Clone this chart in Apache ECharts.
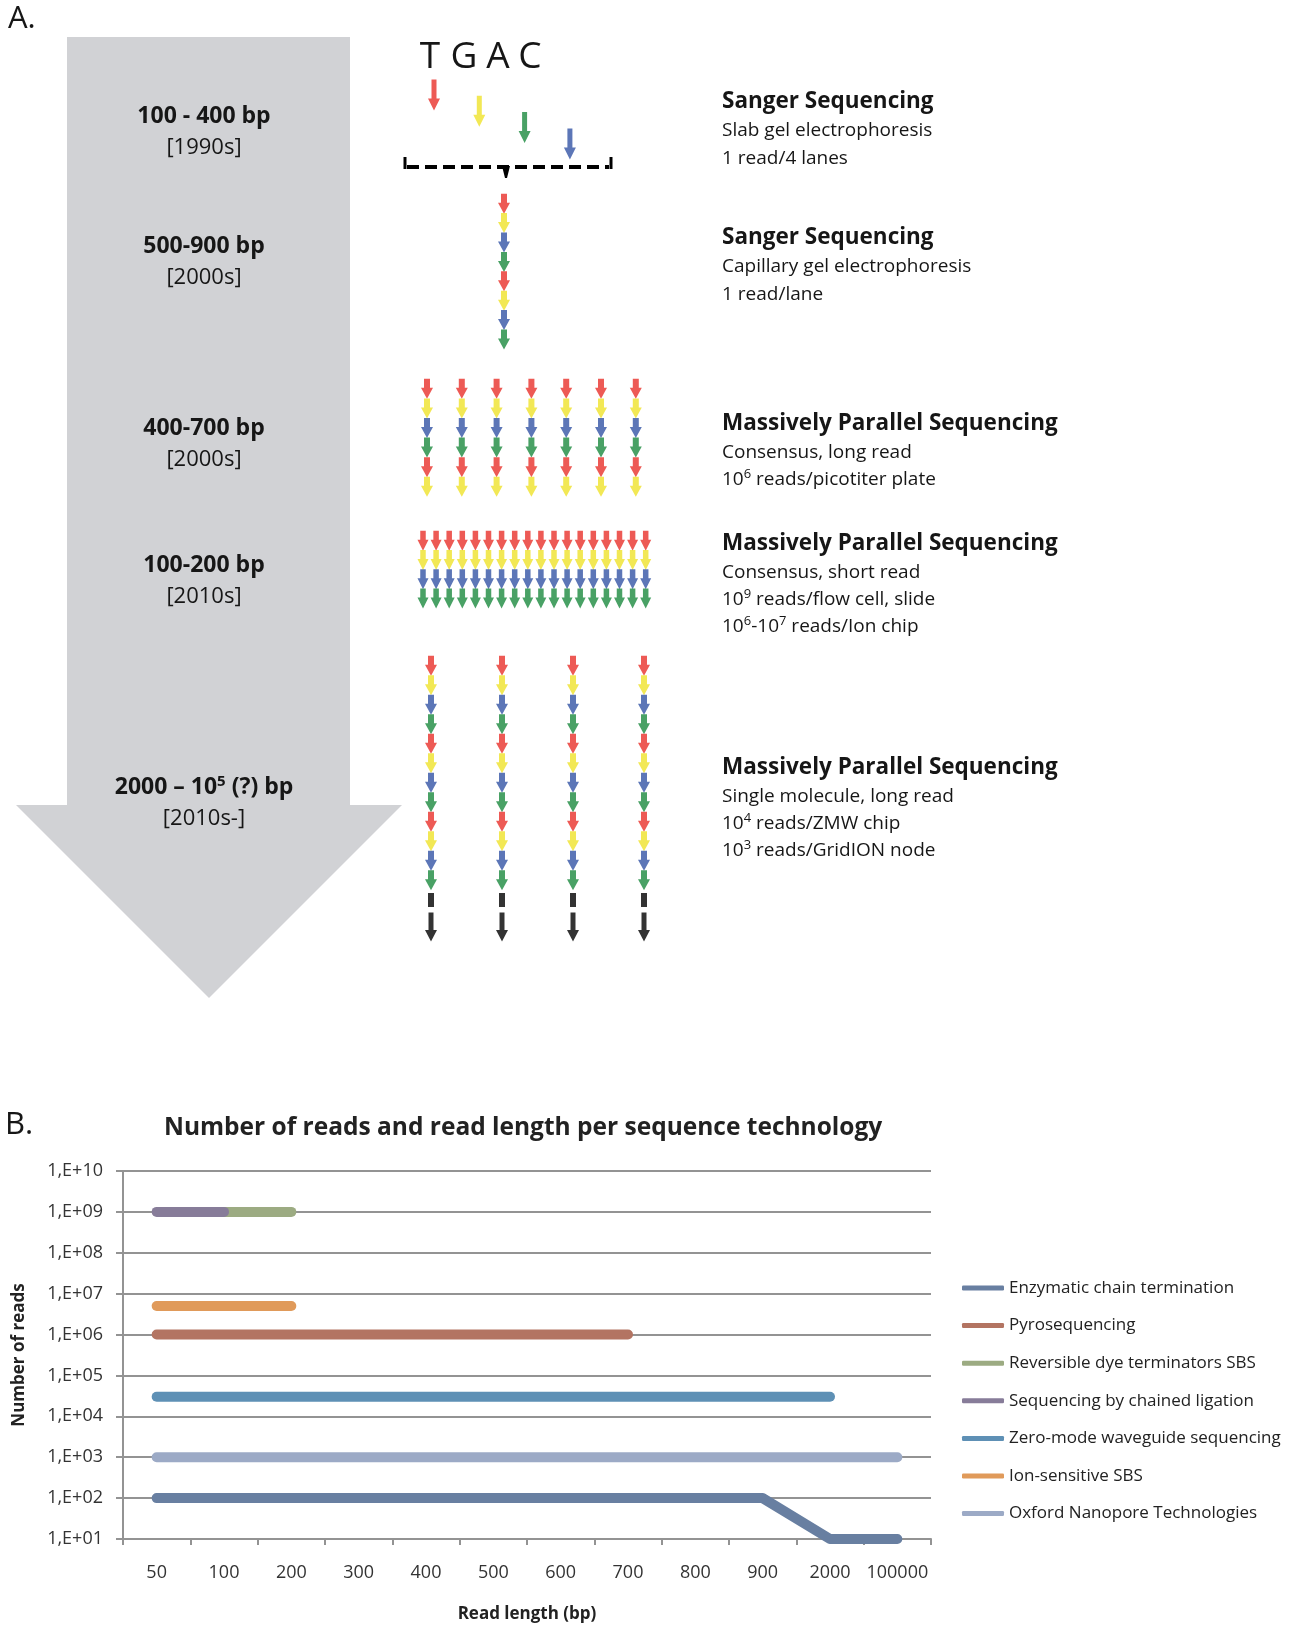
<!DOCTYPE html>
<html>
<head>
<meta charset="utf-8">
<script src="https://cdn.jsdelivr.net/npm/echarts@6/dist/echarts.min.js"></script>
<style>
html, body { margin: 0; padding: 0; background: #fff; }
#main { width: 1303px; height: 1625px; }
</style>
</head>
<body>
<div id="main"></div>
<script>
"use strict";
/* Panel A: read length per era, panel B: reads vs read length */

// ---- panel B data ----
var readLengths = ['50', '100', '200', '300', '400', '500', '600', '700', '800', '900', '2000', '100000'];
var technologies = ['Enzymatic chain termination', 'Pyrosequencing', 'Reversible dye terminators SBS',
    'Sequencing by chained ligation', 'Zero-mode waveguide sequencing', 'Ion-sensitive SBS',
    'Oxford Nanopore Technologies'];
var enzymatic = [1e2, 1e2, 1e2, 1e2, 1e2, 1e2, 1e2, 1e2, 1e2, 1e2, 1e1, 1e1];
var pyro = [1e6, 1e6, 1e6, 1e6, 1e6, 1e6, 1e6, 1e6, null, null, null, null];
var reversibleDye = [null, 1e9, 1e9, null, null, null, null, null, null, null, null, null];
var chainedLigation = [1e9, 1e9, null, null, null, null, null, null, null, null, null, null];
var zeroMode = [3e4, 3e4, 3e4, 3e4, 3e4, 3e4, 3e4, 3e4, 3e4, 3e4, 3e4, null];
var ionSensitive = [5e6, 5e6, 5e6, null, null, null, null, null, null, null, null, null];
var nanopore = [1e3, 1e3, 1e3, 1e3, 1e3, 1e3, 1e3, 1e3, 1e3, 1e3, 1e3, 1e3];

// ---- panel A data ----
var baseLetters = ['T', 'G', 'A', 'C'];
var slabLanes = ['T', 'G', 'A', 'C'];
var capillaryRead = ['T', 'G', 'C', 'A', 'T', 'G', 'C', 'A'];
var longReadCount = 7;
var longRead = ['T', 'G', 'C', 'A', 'T', 'G'];
var shortReadCount = 18;
var shortRead = ['T', 'G', 'C', 'A'];
var singleReadCount = 4;
var singleRead = ['T', 'G', 'C', 'A', 'T', 'G', 'C', 'A', 'T', 'G', 'C', 'A'];
var eraLengths = ['100 - 400 bp', '500-900 bp', '400-700 bp', '100-200 bp', '2000 \u2013 10^5 (?) bp'];
var eraDecades = ['[1990s]', '[2000s]', '[2000s]', '[2010s]', '[2010s-]'];
var techNames = ['Sanger Sequencing', 'Sanger Sequencing', 'Massively Parallel Sequencing',
    'Massively Parallel Sequencing', 'Massively Parallel Sequencing'];
var techNotes = [
    ['Slab gel electrophoresis', '1 read/4 lanes'],
    ['Capillary gel electrophoresis', '1 read/lane'],
    ['Consensus, long read', '10^6 reads/picotiter plate'],
    ['Consensus, short read', '10^9 reads/flow cell, slide', '10^6-10^7 reads/Ion chip'],
    ['Single molecule, long read', '10^4 reads/ZMW chip', '10^3 reads/GridION node']
];

// ---- styles ----
var FONT = 'Open Sans';
var INK = '#161616';
var BASE_COLORS = { T: '#e8312a', G: '#efe22a', A: '#1b8a3f', C: '#3354a5' };
var SERIES_COLORS = ['#687fa1', '#b37462', '#9cab82', '#877c99', '#5e90b5', '#e09a5a', '#9caac6'];
var GRID_GRAY = '#939393';
var ARROW_SHORT = 'path://M3,0H9V9H12L6,20L0,9H3Z';
var ARROW_LONG = 'path://M3.5,0H8.5V19H12L6,31L0,19H3.5Z';
var ARROW_BLACK = 'path://M3.5,0H8.5V17H12L6,28L0,17H3.5Z';

function sup(s) { return s.replace(/\^(\d+)/g, '{sup|$1}'); }

function readColumn(x, yTop, bases, step) {
    return bases.map(function (b, i) {
        return { value: [x, yTop + step * (i + 0.5)], itemStyle: { color: BASE_COLORS[b] } };
    });
}

// build arrows for panel A
var shortArrows = [], longArrows = [], blackDash = [], blackArrows = [];
slabLanes.forEach(function (b, i) {
    longArrows.push({ value: [434 + i * 45.3, 95 + i * 16.3], itemStyle: { color: BASE_COLORS[b] } });
});
shortArrows = shortArrows.concat(readColumn(504, 194, capillaryRead, 19.4));
for (var i = 0; i < longReadCount; i++) shortArrows = shortArrows.concat(readColumn(427 + i * 34.8, 379, longRead, 19.6));
var narrowArrows = [];
for (i = 0; i < shortReadCount; i++) narrowArrows = narrowArrows.concat(readColumn(423 + i * 13.1, 531, shortRead, 19.3));
for (i = 0; i < singleReadCount; i++) {
    var cx = 431 + i * 71;
    shortArrows = shortArrows.concat(readColumn(cx, 656, singleRead, 19.5));
    blackDash.push([cx, 900]);
    blackArrows.push([cx, 927]);
}

// text graphics for panel A
var graphics = [
    { type: 'text', style: { text: 'A.', x: 8, y: 4, fontSize: 31, fontFamily: FONT, fill: INK } },
    { type: 'text', style: { text: 'B.', x: 5, y: 1110, fontSize: 31, fontFamily: FONT, fill: INK } },
    { type: 'polygon', shape: { points: [[67, 37], [350, 37], [350, 805], [402, 805], [209, 998], [16, 805], [67, 805]] },
        style: { fill: '#d1d2d5' } },
    { type: 'line', shape: { x1: 407, y1: 167, x2: 609, y2: 167 }, style: { stroke: '#000', lineWidth: 4, lineDash: [12, 6] } },
    { type: 'line', shape: { x1: 405, y1: 157, x2: 405, y2: 169 }, style: { stroke: '#000', lineWidth: 3 } },
    { type: 'line', shape: { x1: 611, y1: 157, x2: 611, y2: 169 }, style: { stroke: '#000', lineWidth: 3 } },
    { type: 'polygon', shape: { points: [[502, 166], [510, 166], [507, 178], [505, 178]] }, style: { fill: '#000' } }
];
var letterX = [430, 464, 498, 530];
baseLetters.forEach(function (b, i) {
    graphics.push({ type: 'text', style: { text: b, x: letterX[i], y: 57, align: 'center', verticalAlign: 'middle',
        fontSize: 37, fontFamily: FONT, fill: INK } });
});
var eraY = [116, 246, 428, 565, 787];
eraLengths.forEach(function (t, i) {
    graphics.push({ type: 'text', style: { text: sup(t), x: 204, y: eraY[i], align: 'center', verticalAlign: 'middle',
        fontSize: 23, fontWeight: 'bold', fontFamily: FONT, fill: INK, lineHeight: 26,
        rich: { sup: { fontSize: 15, fontWeight: 'bold', fontFamily: FONT, lineHeight: 18, verticalAlign: 'top' } } } });
    graphics.push({ type: 'text', style: { text: eraDecades[i], x: 204, y: eraY[i] + 32, align: 'center', verticalAlign: 'middle',
        fontSize: 22, fontFamily: FONT, fill: INK } });
});
var techY = [[102, 131, 159], [238, 267, 295], [424, 453, 480], [544, 573, 600, 627], [768, 797, 824, 851]];
techNames.forEach(function (t, i) {
    graphics.push({ type: 'text', style: { text: t, x: 722, y: techY[i][0], verticalAlign: 'middle',
        fontSize: 22.5, fontWeight: 'bold', fontFamily: FONT, fill: INK } });
    techNotes[i].forEach(function (n, j) {
        graphics.push({ type: 'text', style: { text: sup(n), x: 722, y: techY[i][j + 1], verticalAlign: 'middle',
            fontSize: 19, fontFamily: FONT, fill: INK, lineHeight: 24,
            rich: { sup: { fontSize: 13, fontFamily: FONT, lineHeight: 16, verticalAlign: 'top' } } } });
    });
});

var myChart = echarts.init(document.getElementById('main'));

function lineSeries(name, data, idx) {
    return {
        name: name, type: 'line', data: data, xAxisIndex: 1, yAxisIndex: 1,
        showSymbol: false, symbol: 'none', connectNulls: false,
        color: SERIES_COLORS[idx],
        lineStyle: { width: 10, cap: 'round', join: 'round', color: SERIES_COLORS[idx] },
        emphasis: { disabled: true }, silent: true
    };
}

var option = {
    animation: false,
    backgroundColor: '#fff',
    textStyle: { fontFamily: FONT },
    title: {
        text: 'Number of reads and read length per sequence technology',
        left: 164, top: 1116, padding: 0,
        textStyle: { fontSize: 24.5, fontWeight: 'bold', fontFamily: FONT, color: '#222' }
    },
    graphic: graphics,
    legend: {
        data: technologies, orient: 'vertical', left: 957, top: 1273,
        icon: 'roundRect', itemWidth: 42, itemHeight: 5, itemGap: 17.6,
        selectedMode: false,
        textStyle: { fontSize: 17, fontFamily: FONT, color: '#222', lineHeight: 20 }
    },
    grid: [
        { left: 0, top: 0, width: 1303, height: 1000 },
        { left: 123, top: 1171, width: 808, height: 368 }
    ],
    xAxis: [
        { gridIndex: 0, type: 'value', min: 0, max: 1303, show: false },
        {
            gridIndex: 1, type: 'category', data: readLengths, boundaryGap: true,
            name: 'Read length (bp)', nameLocation: 'middle', nameGap: 67,
            nameTextStyle: { fontSize: 17, fontWeight: 'bold', fontFamily: FONT, color: '#222' },
            axisLine: { lineStyle: { color: GRID_GRAY, width: 2 } },
            axisTick: { show: true, length: 6, lineStyle: { color: GRID_GRAY, width: 2 } },
            axisLabel: { fontSize: 18, color: '#333', margin: 25, interval: 0 },
            splitLine: { show: false }
        }
    ],
    yAxis: [
        { gridIndex: 0, type: 'value', min: 0, max: 1000, inverse: true, show: false },
        {
            gridIndex: 1, type: 'log', logBase: 10, min: 10, max: 1e10,
            name: 'Number of reads', nameLocation: 'middle', nameGap: 95, nameRotate: 90,
            nameTextStyle: { fontSize: 17, fontWeight: 'bold', fontFamily: FONT, color: '#222' },
            axisLine: { show: true, lineStyle: { color: GRID_GRAY, width: 2 } },
            axisTick: { show: true, length: 7, lineStyle: { color: GRID_GRAY, width: 2 } },
            axisLabel: {
                fontSize: 18, color: '#333', margin: 20,
                formatter: function (v) {
                    var e = Math.round(Math.log10(v));
                    return '1,E+' + (e < 10 ? '0' + e : e);
                }
            },
            splitLine: { show: true, lineStyle: { color: GRID_GRAY, width: 2 } },
            minorTick: { show: false }
        }
    ],
    series: [
        { type: 'scatter', xAxisIndex: 0, yAxisIndex: 0, data: longArrows, symbol: ARROW_LONG, symbolSize: [12, 31], silent: true },
        { type: 'scatter', xAxisIndex: 0, yAxisIndex: 0, data: shortArrows, symbol: ARROW_SHORT, symbolSize: [12, 20], silent: true },
        { type: 'scatter', xAxisIndex: 0, yAxisIndex: 0, data: narrowArrows, symbol: ARROW_SHORT, symbolSize: [11, 20], silent: true },
        { type: 'scatter', xAxisIndex: 0, yAxisIndex: 0, data: blackDash, symbol: 'rect', symbolSize: [6, 14], itemStyle: { color: '#000' }, silent: true },
        { type: 'scatter', xAxisIndex: 0, yAxisIndex: 0, data: blackArrows, symbol: ARROW_BLACK, symbolSize: [12, 29], itemStyle: { color: '#000' }, silent: true },
        lineSeries(technologies[0], enzymatic, 0),
        lineSeries(technologies[1], pyro, 1),
        lineSeries(technologies[2], reversibleDye, 2),
        lineSeries(technologies[3], chainedLigation, 3),
        lineSeries(technologies[4], zeroMode, 4),
        lineSeries(technologies[5], ionSensitive, 5),
        lineSeries(technologies[6], nanopore, 6)
    ]
};
myChart.setOption(option);

window.onresize = function () {
    myChart.resize();
};
</script>
</body>
</html>
